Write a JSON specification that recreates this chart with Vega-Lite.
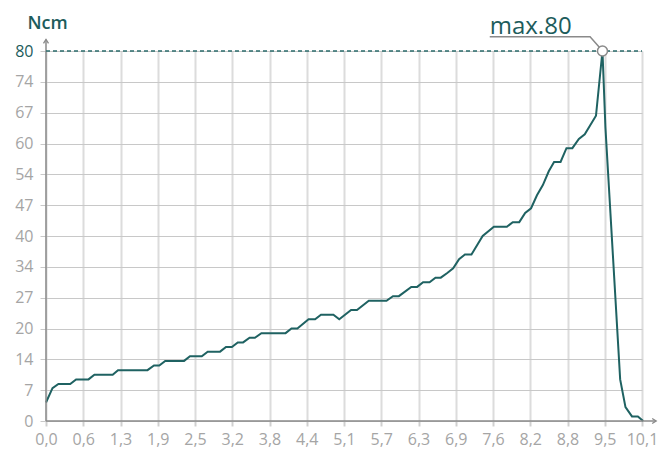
{
  "$schema": "https://vega.github.io/schema/vega-lite/v6.json",
  "width": 596,
  "height": 370,
  "autosize": "none",
  "padding": {"left": 46, "top": 51, "right": 17, "bottom": 29},
  "background": "white",
  "config": {
    "view": {"stroke": null},
    "font": "Open Sans"
  },
  "datasets": {
    "curve": [
      {"x": 0, "y": 4}, {"x": 0.11, "y": 7.1}, {"x": 0.21, "y": 8}, {"x": 0.41, "y": 8},
      {"x": 0.51, "y": 9}, {"x": 0.72, "y": 9}, {"x": 0.82, "y": 10}, {"x": 1.13, "y": 10},
      {"x": 1.22, "y": 11}, {"x": 1.72, "y": 11}, {"x": 1.83, "y": 12}, {"x": 1.92, "y": 12},
      {"x": 2.02, "y": 13}, {"x": 2.34, "y": 13}, {"x": 2.44, "y": 14}, {"x": 2.64, "y": 14},
      {"x": 2.74, "y": 15}, {"x": 2.95, "y": 15}, {"x": 3.05, "y": 16}, {"x": 3.15, "y": 16},
      {"x": 3.25, "y": 17}, {"x": 3.34, "y": 17}, {"x": 3.45, "y": 18}, {"x": 3.54, "y": 18},
      {"x": 3.65, "y": 19}, {"x": 4.06, "y": 19}, {"x": 4.16, "y": 20}, {"x": 4.26, "y": 20},
      {"x": 4.45, "y": 22}, {"x": 4.56, "y": 22}, {"x": 4.66, "y": 23}, {"x": 4.87, "y": 23},
      {"x": 4.97, "y": 22}, {"x": 5.17, "y": 24}, {"x": 5.27, "y": 24}, {"x": 5.47, "y": 26},
      {"x": 5.77, "y": 26}, {"x": 5.88, "y": 27}, {"x": 5.98, "y": 27}, {"x": 6.19, "y": 29},
      {"x": 6.29, "y": 29}, {"x": 6.39, "y": 30}, {"x": 6.5, "y": 30}, {"x": 6.6, "y": 31},
      {"x": 6.69, "y": 31}, {"x": 6.8, "y": 32}, {"x": 6.9, "y": 33}, {"x": 7.0, "y": 35},
      {"x": 7.1, "y": 36}, {"x": 7.21, "y": 36}, {"x": 7.4, "y": 40}, {"x": 7.59, "y": 42},
      {"x": 7.81, "y": 42}, {"x": 7.91, "y": 43}, {"x": 8.02, "y": 43}, {"x": 8.12, "y": 45},
      {"x": 8.22, "y": 46}, {"x": 8.32, "y": 48.8}, {"x": 8.42, "y": 51}, {"x": 8.52, "y": 54},
      {"x": 8.61, "y": 56}, {"x": 8.72, "y": 56}, {"x": 8.82, "y": 59}, {"x": 8.92, "y": 59},
      {"x": 9.03, "y": 61}, {"x": 9.13, "y": 62}, {"x": 9.32, "y": 66}, {"x": 9.43, "y": 80},
      {"x": 9.48, "y": 63.5}, {"x": 9.73, "y": 9}, {"x": 9.82, "y": 3}, {"x": 9.93, "y": 1},
      {"x": 10.03, "y": 1}, {"x": 10.12, "y": 0}
    ],
    "leader": [
      {"x": 7.52, "y": 83.1, "o": 1}, {"x": 9.22, "y": 83.1, "o": 2}, {"x": 9.4, "y": 80.5, "o": 3}
    ],
    "peak": [{"x": 9.43, "y": 80, "label": "max.80"}],
    "label": [{"x": 7.52, "y": 83.7, "label": "max.80"}]
  },
  "layer": [
    {
      "data": {"name": "curve"},
      "mark": {"type": "line", "color": "#1f6262", "strokeWidth": 2, "clip": false, "interpolate": "linear"},
      "encoding": {
        "x": {
          "field": "x", "type": "quantitative",
          "scale": {"domain": [0, 10.1], "nice": false, "zero": false},
          "axis": {
            "title": null,
            "values": [0, 0.63125, 1.2625, 1.89375, 2.525, 3.15625, 3.7875, 4.41875, 5.05, 5.68125, 6.3125, 6.94375, 7.575, 8.20625, 8.8375, 9.46875, 10.1],
            "tickCount": 40,
            "labelExpr": "replace(format(datum.value + 0.0001, '.1f'), '.', ',')",
            "labelFont": "Open Sans", "labelFontSize": 16, "labelColor": "#a5a5a5",
            "labelFlush": false, "labelOverlap": false, "labelPadding": 5,
            "domain": false,
            "ticks": true, "tickSize": 5, "tickColor": "#d0d0d0", "tickWidth": 2,
            "grid": true, "gridColor": "#dcdcdc", "gridWidth": 2
          }
        },
        "y": {
          "field": "y", "type": "quantitative",
          "scale": {"domain": [0, 80], "nice": false},
          "axis": {
            "title": "Ncm",
            "titleAngle": 0, "titleAlign": "left", "titleBaseline": "alphabetic",
            "titleX": -19, "titleY": -23,
            "titleFont": "Open Sans", "titleFontSize": 18, "titleFontWeight": 600, "titleColor": "#1d5c5c",
            "values": [0, 6.66667, 13.33333, 20, 26.66667, 33.33333, 40, 46.66667, 53.33333, 60, 66.66667, 73.33333, 80],
            "tickCount": 40,
            "labelExpr": "ceil(datum.value - 0.001)",
            "labelFont": "Open Sans", "labelFontSize": 16,
            "labelColor": {"condition": {"test": "datum.value > 79", "value": "#1d5c5c"}, "value": "#a5a5a5"},
            "labelPadding": 7, "labelOverlap": false,
            "domain": false,
            "ticks": true, "tickSize": 6, "tickColor": "#c8c8c8", "tickWidth": 1,
            "grid": true, "gridColor": "#c8c8c8", "gridWidth": 1
          }
        }
      }
    },
    {
      "data": {"values": [{"x": 0, "y": 0, "y2": 82.5}]},
      "mark": {"type": "rule", "color": "#8a8a8a", "strokeWidth": 1.5, "clip": false},
      "encoding": {
        "x": {"field": "x", "type": "quantitative"},
        "y": {"field": "y", "type": "quantitative"},
        "y2": {"field": "y2"}
      }
    },
    {
      "data": {"values": [{"x": 0, "x2": 10.34, "y": 0}]},
      "mark": {"type": "rule", "color": "#8a8a8a", "strokeWidth": 1.5, "clip": false},
      "encoding": {
        "x": {"field": "x", "type": "quantitative"},
        "x2": {"field": "x2"},
        "y": {"field": "y", "type": "quantitative"}
      }
    },
    {
      "data": {"values": [{"x": 0, "y": 82.5}]},
      "mark": {"type": "point", "shape": "M-0.5,0.8L0,0L0.5,0.8", "size": 100, "filled": false, "stroke": "#8a8a8a", "strokeWidth": 1.3, "opacity": 1, "clip": false},
      "encoding": {
        "x": {"field": "x", "type": "quantitative"},
        "y": {"field": "y", "type": "quantitative"}
      }
    },
    {
      "data": {"values": [{"x": 10.34, "y": 0}]},
      "mark": {"type": "point", "shape": "M-0.8,-0.5L0,0L-0.8,0.5", "size": 100, "filled": false, "stroke": "#8a8a8a", "strokeWidth": 1.3, "opacity": 1, "clip": false},
      "encoding": {
        "x": {"field": "x", "type": "quantitative"},
        "y": {"field": "y", "type": "quantitative"}
      }
    },
    {
      "data": {"values": [{"x": 0, "x2": 10.1, "y": 80}]},
      "mark": {"type": "rule", "color": "#2a6b6b", "strokeWidth": 1.5, "strokeDash": [4, 3], "clip": false},
      "encoding": {
        "x": {"field": "x", "type": "quantitative"},
        "x2": {"field": "x2"},
        "y": {"field": "y", "type": "quantitative"}
      }
    },
    {
      "data": {"name": "leader"},
      "mark": {"type": "line", "color": "#8a8a8a", "strokeWidth": 1.5, "clip": false},
      "encoding": {
        "x": {"field": "x", "type": "quantitative"},
        "y": {"field": "y", "type": "quantitative"},
        "order": {"field": "o", "type": "quantitative"}
      }
    },
    {
      "data": {"name": "peak"},
      "mark": {"type": "point", "shape": "circle", "size": 100, "filled": true, "fill": "white", "stroke": "#8a8a8a", "strokeWidth": 1.5, "opacity": 1, "clip": false},
      "encoding": {
        "x": {"field": "x", "type": "quantitative"},
        "y": {"field": "y", "type": "quantitative"}
      }
    },
    {
      "data": {"name": "label"},
      "mark": {"type": "text", "align": "left", "baseline": "alphabetic", "font": "Open Sans", "fontSize": 24, "color": "#1d5c5c", "clip": false},
      "encoding": {
        "x": {"field": "x", "type": "quantitative"},
        "y": {"field": "y", "type": "quantitative"},
        "text": {"field": "label"}
      }
    }
  ]
}
